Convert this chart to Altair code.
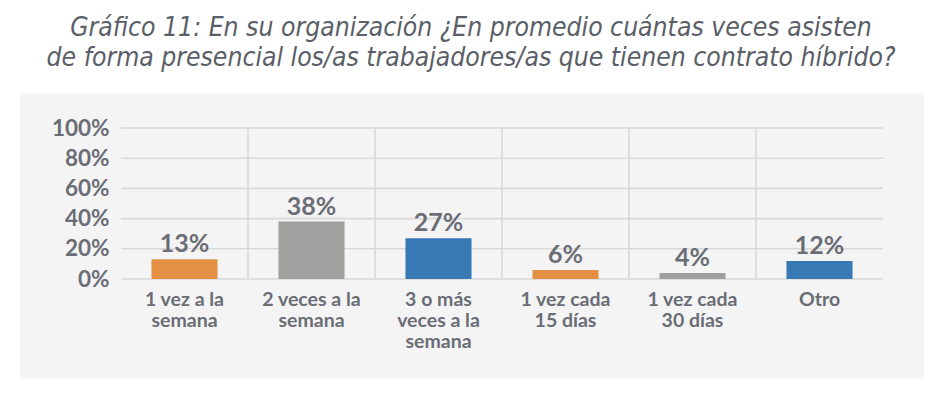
import altair as alt
import pandas as pd

categories = ["1 vez a la\nsemana", "2 veces a la\nsemana", "3 o más\nveces a la\nsemana",
              "1 vez cada\n15 días", "1 vez cada\n30 días", "Otro"]
values = [13, 38, 27, 6, 4, 12]
bar_colors = ["#E38F44", "#A0A09F", "#3679B5", "#E38F44", "#A0A09F", "#3679B5"]
y_ticks = [0, 20, 40, 60, 80, 100]
title_lines = ["Gráfico 11: En su organización ¿En promedio cuántas veces asisten",
               "de forma presencial los/as trabajadores/as que tienen contrato híbrido?"]

TXT = "#6A6D75"
GRID = "#D9D9D9"
FONT = "Lato"

df = pd.DataFrame({"cat": categories, "val": values,
                   "lbl": [f"{v}%" for v in values]})
grid_y = pd.DataFrame({"val": y_ticks})
grid_x = pd.DataFrame({"cat": categories[1:]})
bg = pd.DataFrame({"a": [0]})

W, H = 762, 151

xscale = alt.Scale(domain=categories, paddingInner=0, paddingOuter=0)
yscale = alt.Scale(domain=[0, 100])

xaxis = alt.Axis(title=None, labelExpr="split(datum.label, '\\n')",
                 labelAngle=0, labelFont=FONT, labelFontSize=19.5,
                 labelFontWeight="bold", labelColor=TXT, labelLineHeight=21,
                 labelPadding=11, domain=False, ticks=False, grid=False,
                 labelBaseline="top", labelAlign="center", bandPosition=0.5,
                 labelOverlap=False, zindex=2)
yaxis = alt.Axis(title=None, values=y_ticks, labelExpr="datum.value + '%'",
                 labelFont=FONT, labelFontSize=22.5, labelFontWeight="bold",
                 labelColor=TXT, labelPadding=12, domain=False, ticks=False,
                 grid=False, labelOverlap=False, zindex=2)

background = alt.Chart(bg).mark_rect(color="#F4F4F4").encode(
    x=alt.value(-101), x2=alt.value(803), y=alt.value(-35), y2=alt.value(251)
)

hgrid = alt.Chart(grid_y).mark_rule(color=GRID, strokeWidth=1.6).encode(
    y=alt.Y("val:Q", scale=yscale, axis=yaxis)
)

vgrid = alt.Chart(grid_x).mark_rule(color=GRID, strokeWidth=1.6).encode(
    x=alt.X("cat:N", scale=xscale, sort=categories, bandPosition=0, axis=xaxis)
)

bars = alt.Chart(df).mark_bar(width=alt.RelativeBandSize(0.52)).encode(
    x=alt.X("cat:N", scale=xscale, sort=categories, axis=xaxis),
    y=alt.Y("val:Q", scale=yscale, axis=yaxis),
    color=alt.Color("cat:N", scale=alt.Scale(domain=categories, range=bar_colors),
                    legend=None),
)

labels = alt.Chart(df).mark_text(font=FONT, fontSize=25, fontWeight="bold", color=TXT,
                                 baseline="alphabetic", dy=-7).encode(
    x=alt.X("cat:N", scale=xscale, sort=categories, axis=xaxis),
    y=alt.Y("val:Q", scale=yscale, axis=yaxis),
    text="lbl:N",
)

chart = alt.layer(background, hgrid, vgrid, bars, labels).properties(
    width=W, height=H,
    autosize=alt.AutoSizeParams(type="none"),
    padding={"left": 113, "top": 120, "right": 51, "bottom": 100},
    title=alt.TitleParams(text=title_lines, font="DejaVu Sans Condensed",
                          fontSize=26.3, fontStyle="italic", fontWeight="normal",
                          color="#5A5E67", lineHeight=30, anchor="middle",
                          dx=-31, offset=22),
).configure_view(stroke=None).configure(background="white")

chart.save("out.html", embed_options={"renderer": "svg", "actions": False})
